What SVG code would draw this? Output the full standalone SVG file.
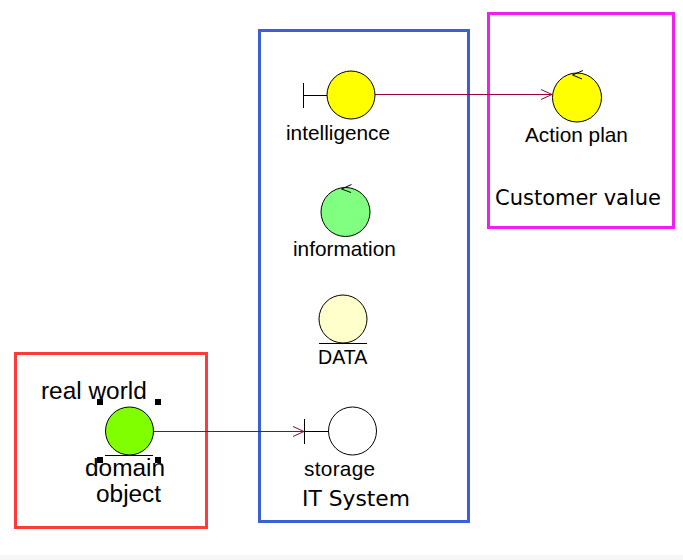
<svg xmlns="http://www.w3.org/2000/svg" width="683" height="560" viewBox="0 0 683 560">
<style>
.box{fill:none;stroke-width:3}
.ln{fill:none;stroke:#000;stroke-width:1}
.c{stroke:#000;stroke-width:1}
.t{font-family:"Liberation Sans",Arial,sans-serif;font-size:20.800px;fill:#000}
.b{font-family:"Liberation Sans",Arial,sans-serif;font-size:24.400px;fill:#000}
.d{font-family:"Liberation Sans",Arial,sans-serif;font-size:24.400px;fill:#000}
.w{font-family:"DejaVu Sans",sans-serif;font-size:21px;fill:#000}
.con{fill:none;stroke:#990040;stroke-width:1}
.h{fill:#000}
</style>
<defs>
<marker id="arr" markerUnits="userSpaceOnUse" markerWidth="12" markerHeight="12" refX="11" refY="6" orient="auto"><path d="M0 1L11 6L0 11" fill="none" stroke="#990040" stroke-width="1"/></marker>
</defs>
<rect width="683" height="560" fill="#fff"/>
<rect x="0" y="555" width="683" height="5" fill="#f6f6f6"/>
<g id="it-system"><rect class="box" x="259.500" y="30.500" width="209" height="491" stroke="#3b5fd6"/><text class="w" x="302" y="506" style="font-size:21.800px">IT System</text></g>
<g id="customer-value"><rect class="box" x="488.500" y="13.500" width="185" height="214" stroke="#f01ff0"/><text class="w" x="495" y="205">Customer value</text></g>
<g id="real-world"><rect class="box" x="15.500" y="353.500" width="191" height="174" stroke="#ff3a3a"/><text class="b" x="41" y="399">real world</text></g>
<g id="connectors">
<path class="con" d="M375 94.500H552" marker-end="url(#arr)"/>
<path class="con" d="M153 431.500H304" marker-end="url(#arr)"/>
</g>
<g id="intelligence"><path class="ln" d="M303.500 83V108M303.500 95.500H327"/><circle class="c" cx="351" cy="95" r="24" fill="#ffff00"/><text class="t" x="286" y="140">intelligence</text></g>
<g id="action-plan"><circle class="c" cx="577" cy="97.500" r="24.500" fill="#ffff00"/><path class="ln" d="M583 70.500L572.500 75L582 79"/><text class="t" x="525" y="142">Action plan</text></g>
<g id="information"><circle class="c" cx="345.500" cy="212" r="24.500" fill="#80ff80"/><path class="ln" d="M351.500 184.500L341.500 189L351 192.500"/><text class="t" x="293" y="256">information</text></g>
<g id="data"><circle class="c" cx="343" cy="319" r="24" fill="#ffffcc"/><path class="ln" d="M319 343.500H367"/><text class="t" x="318" y="364" style="font-size:19.600px">DATA</text></g>
<g id="storage"><path class="ln" d="M304.500 419V444M304.500 431.500H328"/><circle class="c" cx="352.500" cy="431" r="24" fill="#fff"/><text class="t" x="304" y="476" style="letter-spacing:.3px">storage</text></g>
<g id="domain-object">
<circle class="c" cx="129.500" cy="431" r="24" fill="#80ff00"/><path class="ln" d="M105 455.500H153"/>
<rect class="h" x="97" y="399" width="6" height="6"/><rect class="h" x="155" y="399" width="6" height="6"/><rect class="h" x="97" y="457" width="6" height="6"/><rect class="h" x="155" y="457" width="6" height="6"/>
<text class="d" x="85" y="476">domain</text><text class="d" x="96" y="502">object</text>
</g>
</svg>
